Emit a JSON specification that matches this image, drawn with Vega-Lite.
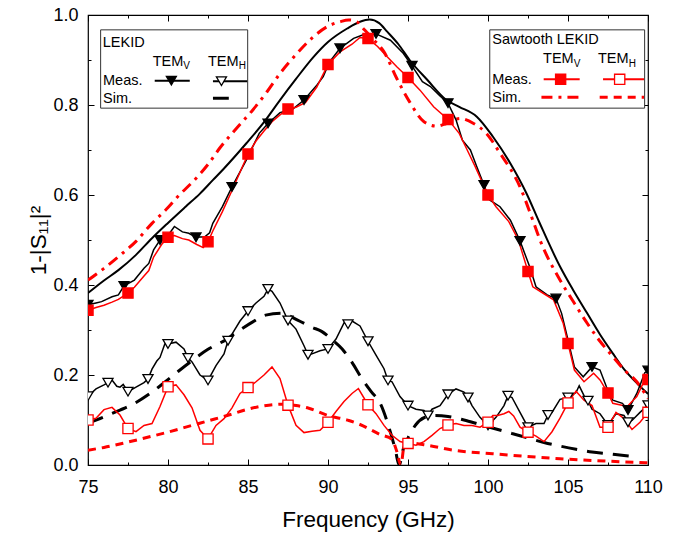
{
"$schema": "https://vega.github.io/schema/vega-lite/v6.json",
"width": 560, "height": 450,
"autosize": {"type": "none"},
"padding": {"left": 88, "top": 15, "right": 29, "bottom": 73},
"background": "white",
"config": {
  "view": {"stroke": "black", "strokeWidth": 1.2},
  "font": "Liberation Sans",
  "axis": {"grid": false, "domain": false, "tickColor": "black", "tickWidth": 1, "labelColor": "black", "titleColor": "black", "labelFont": "Liberation Sans", "titleFont": "Liberation Sans", "titleFontWeight": "normal", "labelFlush": false, "labelOverlap": false}
},
"datasets": {
"curves": [
{"s":"LV","f":75.0,"v":0.356},{"s":"LV","f":75.5,"v":0.36},{"s":"LV","f":75.85,"v":0.363},{"s":"LV","f":76.5,"v":0.374},{"s":"LV","f":76.9,"v":0.378},{"s":"LV","f":77.25,"v":0.398},{"s":"LV","f":77.9,"v":0.411},{"s":"LV","f":78.5,"v":0.437},{"s":"LV","f":78.8,"v":0.448},{"s":"LV","f":79.1,"v":0.478},{"s":"LV","f":79.5,"v":0.5},{"s":"LV","f":80.0,"v":0.51},{"s":"LV","f":80.4,"v":0.53},{"s":"LV","f":80.9,"v":0.518},{"s":"LV","f":81.3,"v":0.515},{"s":"LV","f":81.75,"v":0.506},{"s":"LV","f":82.3,"v":0.507},{"s":"LV","f":82.6,"v":0.516},{"s":"LV","f":82.8,"v":0.537},{"s":"LV","f":83.4,"v":0.574},{"s":"LV","f":84.0,"v":0.618},{"s":"LV","f":84.9,"v":0.678},{"s":"LV","f":85.7,"v":0.737},{"s":"LV","f":86.25,"v":0.759},{"s":"LV","f":87.0,"v":0.783},{"s":"LV","f":87.8,"v":0.791},{"s":"LV","f":88.5,"v":0.811},{"s":"LV","f":89.3,"v":0.844},{"s":"LV","f":89.7,"v":0.863},{"s":"LV","f":90.1,"v":0.896},{"s":"LV","f":90.75,"v":0.926},{"s":"LV","f":91.6,"v":0.948},{"s":"LV","f":92.2,"v":0.956},{"s":"LV","f":93.0,"v":0.958},{"s":"LV","f":93.9,"v":0.944},{"s":"LV","f":94.7,"v":0.915},{"s":"LV","f":95.25,"v":0.887},{"s":"LV","f":95.9,"v":0.852},{"s":"LV","f":96.4,"v":0.841},{"s":"LV","f":97.0,"v":0.82},{"s":"LV","f":97.5,"v":0.804},{"s":"LV","f":98.0,"v":0.767},{"s":"LV","f":98.4,"v":0.722},{"s":"LV","f":98.9,"v":0.7},{"s":"LV","f":99.3,"v":0.663},{"s":"LV","f":99.75,"v":0.622},{"s":"LV","f":100.1,"v":0.589},{"s":"LV","f":100.75,"v":0.574},{"s":"LV","f":101.4,"v":0.544},{"s":"LV","f":102.0,"v":0.498},{"s":"LV","f":102.6,"v":0.441},{"s":"LV","f":103.0,"v":0.396},{"s":"LV","f":103.7,"v":0.378},{"s":"LV","f":104.25,"v":0.37},{"s":"LV","f":104.6,"v":0.337},{"s":"LV","f":105.0,"v":0.278},{"s":"LV","f":105.4,"v":0.218},{"s":"LV","f":105.95,"v":0.196},{"s":"LV","f":106.5,"v":0.218},{"s":"LV","f":107.0,"v":0.211},{"s":"LV","f":107.4,"v":0.174},{"s":"LV","f":107.8,"v":0.144},{"s":"LV","f":108.4,"v":0.137},{"s":"LV","f":108.75,"v":0.122},{"s":"LV","f":109.3,"v":0.159},{"s":"LV","f":109.8,"v":0.205},{"s":"LV","f":110.0,"v":0.21},

{"s":"SV","f":75.0,"v":0.344},{"s":"SV","f":75.5,"v":0.35},{"s":"SV","f":76.0,"v":0.355},{"s":"SV","f":76.5,"v":0.362},{"s":"SV","f":76.9,"v":0.368},{"s":"SV","f":77.5,"v":0.382},{"s":"SV","f":77.9,"v":0.395},{"s":"SV","f":78.5,"v":0.42},{"s":"SV","f":78.8,"v":0.432},{"s":"SV","f":79.1,"v":0.462},{"s":"SV","f":79.6,"v":0.49},{"s":"SV","f":80.0,"v":0.506},{"s":"SV","f":80.4,"v":0.51},{"s":"SV","f":80.9,"v":0.503},{"s":"SV","f":81.3,"v":0.5},{"s":"SV","f":81.8,"v":0.49},{"s":"SV","f":82.2,"v":0.483},{"s":"SV","f":82.5,"v":0.496},{"s":"SV","f":82.8,"v":0.52},{"s":"SV","f":83.4,"v":0.563},{"s":"SV","f":84.0,"v":0.61},{"s":"SV","f":85.0,"v":0.691},{"s":"SV","f":85.5,"v":0.72},{"s":"SV","f":86.0,"v":0.742},{"s":"SV","f":86.5,"v":0.763},{"s":"SV","f":87.0,"v":0.778},{"s":"SV","f":87.5,"v":0.791},{"s":"SV","f":88.0,"v":0.795},{"s":"SV","f":88.6,"v":0.806},{"s":"SV","f":89.3,"v":0.84},{"s":"SV","f":90.0,"v":0.89},{"s":"SV","f":90.75,"v":0.918},{"s":"SV","f":91.5,"v":0.935},{"s":"SV","f":92.0,"v":0.95},{"s":"SV","f":92.5,"v":0.948},{"s":"SV","f":93.1,"v":0.93},{"s":"SV","f":93.7,"v":0.907},{"s":"SV","f":94.3,"v":0.885},{"s":"SV","f":95.0,"v":0.861},{"s":"SV","f":95.75,"v":0.833},{"s":"SV","f":96.6,"v":0.796},{"s":"SV","f":97.5,"v":0.768},{"s":"SV","f":98.2,"v":0.737},{"s":"SV","f":98.7,"v":0.7},{"s":"SV","f":99.2,"v":0.663},{"s":"SV","f":100.0,"v":0.6},{"s":"SV","f":100.5,"v":0.574},{"s":"SV","f":101.3,"v":0.541},{"s":"SV","f":101.9,"v":0.5},{"s":"SV","f":102.5,"v":0.43},{"s":"SV","f":102.8,"v":0.396},{"s":"SV","f":103.3,"v":0.385},{"s":"SV","f":104.1,"v":0.367},{"s":"SV","f":104.7,"v":0.315},{"s":"SV","f":105.0,"v":0.27},{"s":"SV","f":105.4,"v":0.211},{"s":"SV","f":106.0,"v":0.185},{"s":"SV","f":106.6,"v":0.204},{"s":"SV","f":107.0,"v":0.189},{"s":"SV","f":107.5,"v":0.16},{"s":"SV","f":107.8,"v":0.137},{"s":"SV","f":108.7,"v":0.13},{"s":"SV","f":109.3,"v":0.152},{"s":"SV","f":109.7,"v":0.182},{"s":"SV","f":110.0,"v":0.19},

{"s":"LH","f":75.0,"v":0.153},{"s":"LH","f":75.5,"v":0.169},{"s":"LH","f":76.0,"v":0.178},{"s":"LH","f":76.25,"v":0.183},{"s":"LH","f":76.5,"v":0.189},{"s":"LH","f":76.8,"v":0.175},{"s":"LH","f":77.0,"v":0.173},{"s":"LH","f":77.2,"v":0.179},{"s":"LH","f":77.5,"v":0.163},{"s":"LH","f":78.0,"v":0.173},{"s":"LH","f":78.5,"v":0.183},{"s":"LH","f":78.75,"v":0.191},{"s":"LH","f":79.0,"v":0.213},{"s":"LH","f":79.3,"v":0.231},{"s":"LH","f":79.5,"v":0.239},{"s":"LH","f":79.8,"v":0.269},{"s":"LH","f":80.0,"v":0.269},{"s":"LH","f":80.5,"v":0.273},{"s":"LH","f":81.0,"v":0.258},{"s":"LH","f":81.25,"v":0.238},{"s":"LH","f":81.5,"v":0.229},{"s":"LH","f":82.0,"v":0.2},{"s":"LH","f":82.5,"v":0.188},{"s":"LH","f":83.0,"v":0.221},{"s":"LH","f":83.5,"v":0.247},{"s":"LH","f":83.75,"v":0.276},{"s":"LH","f":84.0,"v":0.291},{"s":"LH","f":84.5,"v":0.32},{"s":"LH","f":85.0,"v":0.342},{"s":"LH","f":85.5,"v":0.36},{"s":"LH","f":86.0,"v":0.375},{"s":"LH","f":86.25,"v":0.391},{"s":"LH","f":86.5,"v":0.386},{"s":"LH","f":87.0,"v":0.36},{"s":"LH","f":87.5,"v":0.321},{"s":"LH","f":88.0,"v":0.302},{"s":"LH","f":88.5,"v":0.265},{"s":"LH","f":88.75,"v":0.245},{"s":"LH","f":89.0,"v":0.247},{"s":"LH","f":89.5,"v":0.254},{"s":"LH","f":90.0,"v":0.258},{"s":"LH","f":90.5,"v":0.28},{"s":"LH","f":91.0,"v":0.316},{"s":"LH","f":91.25,"v":0.313},{"s":"LH","f":91.5,"v":0.32},{"s":"LH","f":92.0,"v":0.309},{"s":"LH","f":92.5,"v":0.275},{"s":"LH","f":93.0,"v":0.244},{"s":"LH","f":93.5,"v":0.214},{"s":"LH","f":93.75,"v":0.188},{"s":"LH","f":94.0,"v":0.185},{"s":"LH","f":94.5,"v":0.152},{"s":"LH","f":95.0,"v":0.132},{"s":"LH","f":95.5,"v":0.124},{"s":"LH","f":96.0,"v":0.121},{"s":"LH","f":96.25,"v":0.11},{"s":"LH","f":96.5,"v":0.124},{"s":"LH","f":97.0,"v":0.132},{"s":"LH","f":97.5,"v":0.157},{"s":"LH","f":98.0,"v":0.169},{"s":"LH","f":98.5,"v":0.162},{"s":"LH","f":98.75,"v":0.15},{"s":"LH","f":99.0,"v":0.132},{"s":"LH","f":99.5,"v":0.106},{"s":"LH","f":100.0,"v":0.088},{"s":"LH","f":100.5,"v":0.106},{"s":"LH","f":101.0,"v":0.132},{"s":"LH","f":101.25,"v":0.154},{"s":"LH","f":101.5,"v":0.15},{"s":"LH","f":102.0,"v":0.117},{"s":"LH","f":102.5,"v":0.084},{"s":"LH","f":103.0,"v":0.092},{"s":"LH","f":103.5,"v":0.092},{"s":"LH","f":103.75,"v":0.111},{"s":"LH","f":104.0,"v":0.117},{"s":"LH","f":104.5,"v":0.146},{"s":"LH","f":105.0,"v":0.15},{"s":"LH","f":105.5,"v":0.161},{"s":"LH","f":105.7,"v":0.176},{"s":"LH","f":106.0,"v":0.154},{"s":"LH","f":106.25,"v":0.143},{"s":"LH","f":106.5,"v":0.124},{"s":"LH","f":107.0,"v":0.114},{"s":"LH","f":107.5,"v":0.089},{"s":"LH","f":108.0,"v":0.114},{"s":"LH","f":108.5,"v":0.11},{"s":"LH","f":108.75,"v":0.095},{"s":"LH","f":109.0,"v":0.099},{"s":"LH","f":109.5,"v":0.117},{"s":"LH","f":110.0,"v":0.133},

{"s":"SH","f":75.0,"v":0.1},{"s":"SH","f":75.5,"v":0.104},{"s":"SH","f":76.0,"v":0.123},{"s":"SH","f":76.5,"v":0.128},{"s":"SH","f":77.0,"v":0.111},{"s":"SH","f":77.5,"v":0.081},{"s":"SH","f":78.0,"v":0.074},{"s":"SH","f":78.5,"v":0.088},{"s":"SH","f":79.0,"v":0.092},{"s":"SH","f":79.5,"v":0.13},{"s":"SH","f":80.0,"v":0.174},{"s":"SH","f":80.5,"v":0.178},{"s":"SH","f":81.0,"v":0.156},{"s":"SH","f":81.5,"v":0.127},{"s":"SH","f":82.0,"v":0.077},{"s":"SH","f":82.5,"v":0.058},{"s":"SH","f":83.0,"v":0.088},{"s":"SH","f":83.5,"v":0.103},{"s":"SH","f":84.0,"v":0.127},{"s":"SH","f":84.5,"v":0.159},{"s":"SH","f":85.0,"v":0.172},{"s":"SH","f":85.5,"v":0.185},{"s":"SH","f":86.0,"v":0.2},{"s":"SH","f":86.5,"v":0.218},{"s":"SH","f":87.0,"v":0.192},{"s":"SH","f":87.5,"v":0.133},{"s":"SH","f":88.0,"v":0.088},{"s":"SH","f":88.5,"v":0.072},{"s":"SH","f":89.0,"v":0.075},{"s":"SH","f":89.5,"v":0.077},{"s":"SH","f":90.0,"v":0.095},{"s":"SH","f":90.5,"v":0.119},{"s":"SH","f":91.0,"v":0.141},{"s":"SH","f":91.5,"v":0.159},{"s":"SH","f":91.9,"v":0.17},{"s":"SH","f":92.5,"v":0.134},{"s":"SH","f":93.0,"v":0.114},{"s":"SH","f":93.5,"v":0.088},{"s":"SH","f":94.0,"v":0.066},{"s":"SH","f":94.5,"v":0.052},{"s":"SH","f":95.0,"v":0.048},{"s":"SH","f":95.5,"v":0.044},{"s":"SH","f":96.0,"v":0.052},{"s":"SH","f":96.5,"v":0.066},{"s":"SH","f":97.0,"v":0.081},{"s":"SH","f":97.5,"v":0.089},{"s":"SH","f":98.0,"v":0.092},{"s":"SH","f":98.5,"v":0.088},{"s":"SH","f":99.0,"v":0.088},{"s":"SH","f":99.5,"v":0.084},{"s":"SH","f":100.0,"v":0.095},{"s":"SH","f":100.3,"v":0.11},{"s":"SH","f":100.6,"v":0.11},{"s":"SH","f":101.0,"v":0.114},{"s":"SH","f":101.3,"v":0.119},{"s":"SH","f":101.6,"v":0.109},{"s":"SH","f":102.0,"v":0.084},{"s":"SH","f":102.5,"v":0.073},{"s":"SH","f":103.0,"v":0.064},{"s":"SH","f":103.5,"v":0.052},{"s":"SH","f":104.0,"v":0.074},{"s":"SH","f":104.5,"v":0.104},{"s":"SH","f":105.0,"v":0.138},{"s":"SH","f":105.5,"v":0.164},{"s":"SH","f":106.0,"v":0.144},{"s":"SH","f":106.5,"v":0.132},{"s":"SH","f":107.0,"v":0.084},{"s":"SH","f":107.5,"v":0.084},{"s":"SH","f":108.0,"v":0.117},{"s":"SH","f":108.5,"v":0.103},{"s":"SH","f":109.0,"v":0.079},{"s":"SH","f":109.5,"v":0.095},{"s":"SH","f":110.0,"v":0.117},

{"s":"LVS","f":75.0,"v":0.382},{"s":"LVS","f":76.0,"v":0.41},{"s":"LVS","f":76.9,"v":0.433},{"s":"LVS","f":78.0,"v":0.467},{"s":"LVS","f":79.0,"v":0.504},{"s":"LVS","f":80.0,"v":0.538},{"s":"LVS","f":81.1,"v":0.574},{"s":"LVS","f":82.0,"v":0.603},{"s":"LVS","f":82.8,"v":0.633},{"s":"LVS","f":83.5,"v":0.659},{"s":"LVS","f":84.9,"v":0.715},{"s":"LVS","f":86.0,"v":0.762},{"s":"LVS","f":87.0,"v":0.811},{"s":"LVS","f":88.0,"v":0.858},{"s":"LVS","f":89.1,"v":0.907},{"s":"LVS","f":90.0,"v":0.94},{"s":"LVS","f":91.2,"v":0.97},{"s":"LVS","f":92.0,"v":0.985},{"s":"LVS","f":92.6,"v":0.99},{"s":"LVS","f":93.2,"v":0.982},{"s":"LVS","f":93.7,"v":0.963},{"s":"LVS","f":94.4,"v":0.935},{"s":"LVS","f":95.1,"v":0.9},{"s":"LVS","f":96.2,"v":0.856},{"s":"LVS","f":97.4,"v":0.811},{"s":"LVS","f":98.2,"v":0.796},{"s":"LVS","f":99.3,"v":0.774},{"s":"LVS","f":100.3,"v":0.73},{"s":"LVS","f":101.4,"v":0.67},{"s":"LVS","f":102.4,"v":0.604},{"s":"LVS","f":103.2,"v":0.54},{"s":"LVS","f":104.5,"v":0.441},{"s":"LVS","f":105.3,"v":0.39},{"s":"LVS","f":106.2,"v":0.337},{"s":"LVS","f":107.0,"v":0.29},{"s":"LVS","f":107.8,"v":0.248},{"s":"LVS","f":108.5,"v":0.213},{"s":"LVS","f":109.3,"v":0.182},{"s":"LVS","f":110.0,"v":0.158},

{"s":"SVS","f":75.0,"v":0.411},{"s":"SVS","f":76.0,"v":0.437},{"s":"SVS","f":76.9,"v":0.463},{"s":"SVS","f":78.0,"v":0.497},{"s":"SVS","f":79.0,"v":0.537},{"s":"SVS","f":80.0,"v":0.572},{"s":"SVS","f":80.6,"v":0.596},{"s":"SVS","f":81.7,"v":0.635},{"s":"SVS","f":82.5,"v":0.668},{"s":"SVS","f":83.25,"v":0.705},{"s":"SVS","f":84.3,"v":0.749},{"s":"SVS","f":85.3,"v":0.789},{"s":"SVS","f":86.2,"v":0.83},{"s":"SVS","f":87.0,"v":0.87},{"s":"SVS","f":88.0,"v":0.912},{"s":"SVS","f":89.1,"v":0.952},{"s":"SVS","f":90.0,"v":0.975},{"s":"SVS","f":90.75,"v":0.985},{"s":"SVS","f":91.3,"v":0.989},{"s":"SVS","f":91.8,"v":0.985},{"s":"SVS","f":92.2,"v":0.97},{"s":"SVS","f":92.8,"v":0.947},{"s":"SVS","f":93.5,"v":0.918},{"s":"SVS","f":94.3,"v":0.859},{"s":"SVS","f":95.1,"v":0.807},{"s":"SVS","f":96.0,"v":0.763},{"s":"SVS","f":96.8,"v":0.753},{"s":"SVS","f":97.4,"v":0.759},{"s":"SVS","f":98.25,"v":0.77},{"s":"SVS","f":99.1,"v":0.759},{"s":"SVS","f":99.9,"v":0.737},{"s":"SVS","f":100.75,"v":0.693},{"s":"SVS","f":102.0,"v":0.618},{"s":"SVS","f":102.8,"v":0.544},{"s":"SVS","f":103.25,"v":0.5},{"s":"SVS","f":104.5,"v":0.411},{"s":"SVS","f":105.3,"v":0.365},{"s":"SVS","f":106.2,"v":0.315},{"s":"SVS","f":107.0,"v":0.275},{"s":"SVS","f":107.8,"v":0.241},{"s":"SVS","f":108.5,"v":0.212},{"s":"SVS","f":109.3,"v":0.185},{"s":"SVS","f":110.0,"v":0.148},

{"s":"LHS","f":75.0,"v":0.093},{"s":"LHS","f":76.0,"v":0.107},{"s":"LHS","f":77.0,"v":0.122},{"s":"LHS","f":77.7,"v":0.133},{"s":"LHS","f":79.0,"v":0.162},{"s":"LHS","f":80.25,"v":0.197},{"s":"LHS","f":81.5,"v":0.232},{"s":"LHS","f":82.5,"v":0.257},{"s":"LHS","f":83.6,"v":0.278},{"s":"LHS","f":84.5,"v":0.3},{"s":"LHS","f":85.3,"v":0.318},{"s":"LHS","f":86.1,"v":0.333},{"s":"LHS","f":87.1,"v":0.337},{"s":"LHS","f":88.1,"v":0.322},{"s":"LHS","f":89.0,"v":0.306},{"s":"LHS","f":89.6,"v":0.297},{"s":"LHS","f":90.3,"v":0.277},{"s":"LHS","f":90.9,"v":0.257},{"s":"LHS","f":91.5,"v":0.228},{"s":"LHS","f":92.1,"v":0.193},{"s":"LHS","f":92.7,"v":0.163},{"s":"LHS","f":93.25,"v":0.138},{"s":"LHS","f":93.9,"v":0.073},{"s":"LHS","f":94.2,"v":0.035},{"s":"LHS","f":94.45,"v":0.0},{"s":"LHS","f":94.7,"v":0.035},{"s":"LHS","f":95.1,"v":0.067},{"s":"LHS","f":95.5,"v":0.09},{"s":"LHS","f":96.0,"v":0.105},{"s":"LHS","f":96.7,"v":0.11},{"s":"LHS","f":97.5,"v":0.108},{"s":"LHS","f":98.5,"v":0.1},{"s":"LHS","f":99.5,"v":0.09},{"s":"LHS","f":100.5,"v":0.08},{"s":"LHS","f":101.5,"v":0.07},{"s":"LHS","f":102.5,"v":0.06},{"s":"LHS","f":103.5,"v":0.05},{"s":"LHS","f":104.5,"v":0.042},{"s":"LHS","f":105.5,"v":0.035},{"s":"LHS","f":106.5,"v":0.029},{"s":"LHS","f":107.5,"v":0.025},{"s":"LHS","f":108.5,"v":0.021},{"s":"LHS","f":109.0,"v":0.019},

{"s":"SHS","f":75.0,"v":0.033},{"s":"SHS","f":76.0,"v":0.039},{"s":"SHS","f":77.5,"v":0.051},{"s":"SHS","f":79.0,"v":0.064},{"s":"SHS","f":80.0,"v":0.073},{"s":"SHS","f":81.5,"v":0.088},{"s":"SHS","f":82.5,"v":0.098},{"s":"SHS","f":83.8,"v":0.111},{"s":"SHS","f":85.0,"v":0.124},{"s":"SHS","f":86.3,"v":0.133},{"s":"SHS","f":87.2,"v":0.135},{"s":"SHS","f":88.0,"v":0.132},{"s":"SHS","f":88.8,"v":0.126},{"s":"SHS","f":90.0,"v":0.11},{"s":"SHS","f":91.3,"v":0.099},{"s":"SHS","f":92.0,"v":0.09},{"s":"SHS","f":93.25,"v":0.068},{"s":"SHS","f":94.0,"v":0.057},{"s":"SHS","f":94.3,"v":0.03},{"s":"SHS","f":94.55,"v":0.0},{"s":"SHS","f":94.8,"v":0.05},{"s":"SHS","f":96.2,"v":0.044},{"s":"SHS","f":97.8,"v":0.033},{"s":"SHS","f":100.3,"v":0.025},{"s":"SHS","f":102.4,"v":0.019},{"s":"SHS","f":104.5,"v":0.014},{"s":"SHS","f":106.6,"v":0.01},{"s":"SHS","f":108.5,"v":0.007},{"s":"SHS","f":110.0,"v":0.005}
],
"boxes": [
{"f":75.79,"f2":84.98,"v":0.967,"v2":0.793},
{"f":100.11,"f2":109.79,"v":0.967,"v2":0.793}
],
"leglines": [
{"s":"LV","f":79.17,"v":0.854},{"s":"LV","f":81.36,"v":0.854},
{"s":"LH","f":82.81,"v":0.853},{"s":"LH","f":84.95,"v":0.853},
{"s":"LVS","f":79.17,"v":0.815},{"s":"LVS","f":81.36,"v":0.815},
{"s":"LHS","f":82.81,"v":0.815},{"s":"LHS","f":83.8,"v":0.815},
{"s":"SV","f":103.48,"v":0.857},{"s":"SV","f":105.73,"v":0.857},
{"s":"SH","f":107.19,"v":0.857},{"s":"SH","f":109.75,"v":0.857},
{"s":"SVS","f":103.34,"v":0.817},{"s":"SVS","f":105.7,"v":0.817},
{"s":"SHS","f":106.98,"v":0.817},{"s":"SHS","f":109.75,"v":0.817}
],
"legmarks": [
{"s":"LV","f":80.21,"v":0.854},
{"s":"LH","f":83.34,"v":0.853},
{"s":"SV","f":104.54,"v":0.857},
{"s":"SH","f":108.23,"v":0.857}
],
"legtext": [
{"t":"LEKID","f":75.92,"v":0.929},
{"t":"TEM","f":79.04,"v":0.887},
{"t":"TEM","f":82.5,"v":0.887},
{"t":"Meas.","f":75.94,"v":0.844},
{"t":"Sim.","f":75.94,"v":0.804},
{"t":"Sawtooth LEKID","f":100.27,"v":0.936},
{"t":"TEM","f":103.44,"v":0.893},
{"t":"TEM","f":106.875,"v":0.893},
{"t":"Meas.","f":100.27,"v":0.847},
{"t":"Sim.","f":100.27,"v":0.807}
],
"legsub": [
{"t":"V","f":80.96,"v":0.879},
{"t":"H","f":84.42,"v":0.879},
{"t":"V","f":105.36,"v":0.885},
{"t":"H","f":108.8,"v":0.885}
]
},
"layer": [
{
 "data": {"name": "curves"},
 "transform": [{"filter": "datum.s == 'LVS'"}],
 "mark": {"type": "line", "interpolate": "monotone", "clip": true, "color": "#000000", "strokeWidth": 2},
 "encoding": {
  "x": {"field": "f", "type": "quantitative", "scale": {"domain": [75, 110], "nice": false, "zero": false},
        "axis": {"orient": "bottom", "values": [77.5, 82.5, 87.5, 92.5, 97.5, 102.5, 107.5], "tickSize": -3, "labels": false, "title": null}},
  "y": {"field": "v", "type": "quantitative", "scale": {"domain": [0, 1], "nice": false, "zero": false},
        "axis": {"orient": "left", "values": [0.1, 0.3, 0.5, 0.7, 0.9], "tickSize": -3, "labels": false, "title": null}}
 }
},
{
 "data": {"name": "curves"},
 "transform": [{"filter": "datum.s == 'LHS'"}],
 "mark": {"type": "line", "interpolate": "monotone", "clip": true, "color": "#000000", "strokeWidth": 3, "strokeDash": [16, 10]},
 "encoding": {
  "x": {"field": "f", "type": "quantitative", "axis": null},
  "y": {"field": "v", "type": "quantitative", "axis": null}
 }
},
{
 "data": {"name": "curves"},
 "transform": [{"filter": "datum.s == 'SVS'"}],
 "mark": {"type": "line", "interpolate": "monotone", "clip": true, "color": "#ff0000", "strokeWidth": 3, "strokeDash": [11, 6, 3, 6]},
 "encoding": {
  "x": {"field": "f", "type": "quantitative", "axis": null},
  "y": {"field": "v", "type": "quantitative", "axis": null}
 }
},
{
 "data": {"name": "curves"},
 "transform": [{"filter": "datum.s == 'SHS'"}],
 "mark": {"type": "line", "interpolate": "monotone", "clip": true, "color": "#ff0000", "strokeWidth": 3, "strokeDash": [8, 6]},
 "encoding": {
  "x": {"field": "f", "type": "quantitative", "axis": null},
  "y": {"field": "v", "type": "quantitative", "axis": null}
 }
},
{
 "data": {"name": "curves"},
 "transform": [{"filter": "indexof(['LV','LH','SV','SH'], datum.s) >= 0"}],
 "mark": {"type": "line", "clip": true, "strokeWidth": 1.5},
 "encoding": {
  "x": {"field": "f", "type": "quantitative",
        "axis": {"orient": "bottom", "values": [75, 80, 85, 90, 95, 100, 105, 110], "tickSize": -6, "labelFontSize": 18, "labelPadding": 19, "title": "Frequency (GHz)", "titleFontSize": 22.5, "titlePadding": 12}},
  "y": {"field": "v", "type": "quantitative",
        "axis": {"orient": "left", "values": [0, 0.2, 0.4, 0.6, 0.8, 1.0], "format": ".1f", "tickSize": -6, "labelFontSize": 18, "labelPadding": 16, "title": "1-|S₁₁|²", "titleFontSize": 22.5, "titlePadding": 2}},
  "color": {"field": "s", "type": "nominal", "legend": null, "scale": {"domain": ["LV","LH","SV","SH"], "range": ["#000000","#000000","#ff0000","#ff0000"]}}
 }
},
{
 "data": {"name": "curves"},
 "transform": [{"filter": "(datum.s == 'LV' && ((datum.f - 75) % 2.25 == 0 || datum.f == 110)) || (datum.s == 'LH' && (datum.f - 75) % 1.25 == 0) || ((datum.s == 'SV' || datum.s == 'SH') && (datum.f - 75) % 2.5 == 0)"}],
 "mark": {"type": "point", "filled": false, "opacity": 1, "strokeWidth": 1.3, "clip": true},
 "encoding": {
  "x": {"field": "f", "type": "quantitative",
        "axis": {"orient": "top", "values": [75, 80, 85, 90, 95, 100, 105, 110], "tickSize": -6, "labels": false, "title": null}},
  "y": {"field": "v", "type": "quantitative",
        "axis": {"orient": "right", "values": [0, 0.2, 0.4, 0.6, 0.8, 1.0], "tickSize": -6, "labels": false, "title": null}},
  "shape": {"field": "s", "type": "nominal", "legend": null, "scale": {"domain": ["LV","LH","SV","SH"], "range": ["triangle-down","triangle-down","square","square"]}},
  "fill": {"field": "s", "type": "nominal", "legend": null, "scale": {"domain": ["LV","LH","SV","SH"], "range": ["#000000","#ffffff","#ff0000","#ffffff"]}},
  "stroke": {"field": "s", "type": "nominal", "legend": null, "scale": {"domain": ["LV","LH","SV","SH"], "range": ["#000000","#000000","#ff0000","#ff0000"]}},
  "size": {"field": "s", "type": "nominal", "legend": null, "scale": {"domain": ["LV","LH","SV","SH"], "range": [100, 105, 85, 55]}}
 }
},
{
 "data": {"name": "boxes"},
 "mark": {"type": "rect", "fill": "white", "stroke": "#333333", "strokeWidth": 1},
 "encoding": {
  "x": {"field": "f", "type": "quantitative",
        "axis": {"orient": "top", "values": [77.5, 82.5, 87.5, 92.5, 97.5, 102.5, 107.5], "tickSize": -3, "labels": false, "title": null}},
  "x2": {"field": "f2"},
  "y": {"field": "v", "type": "quantitative",
        "axis": {"orient": "right", "values": [0.1, 0.3, 0.5, 0.7, 0.9], "tickSize": -3, "labels": false, "title": null}},
  "y2": {"field": "v2"}
 }
},
{
 "data": {"name": "leglines"},
 "transform": [{"filter": "indexof(['LV','LH','SV','SH','LVS'], datum.s) >= 0"}],
 "mark": {"type": "line"},
 "encoding": {
  "x": {"field": "f", "type": "quantitative", "axis": null},
  "y": {"field": "v", "type": "quantitative", "axis": null},
  "detail": {"field": "s", "type": "nominal"},
  "color": {"field": "s", "type": "nominal", "legend": null}
 }
},
{
 "data": {"name": "leglines"},
 "transform": [{"filter": "datum.s == 'LHS'"}],
 "mark": {"type": "line", "color": "#000000", "strokeWidth": 3, "strokeDash": [16, 10]},
 "encoding": {
  "x": {"field": "f", "type": "quantitative", "axis": null},
  "y": {"field": "v", "type": "quantitative", "axis": null}
 }
},
{
 "data": {"name": "leglines"},
 "transform": [{"filter": "datum.s == 'SVS'"}],
 "mark": {"type": "line", "color": "#ff0000", "strokeWidth": 3, "strokeDash": [11, 6, 3, 6]},
 "encoding": {
  "x": {"field": "f", "type": "quantitative", "axis": null},
  "y": {"field": "v", "type": "quantitative", "axis": null}
 }
},
{
 "data": {"name": "leglines"},
 "transform": [{"filter": "datum.s == 'SHS'"}],
 "mark": {"type": "line", "color": "#ff0000", "strokeWidth": 3, "strokeDash": [8, 6]},
 "encoding": {
  "x": {"field": "f", "type": "quantitative", "axis": null},
  "y": {"field": "v", "type": "quantitative", "axis": null}
 }
},
{
 "data": {"name": "legmarks"},
 "mark": {"type": "point", "filled": false, "opacity": 1, "strokeWidth": 1.3},
 "encoding": {
  "x": {"field": "f", "type": "quantitative", "axis": null},
  "y": {"field": "v", "type": "quantitative", "axis": null},
  "shape": {"field": "s", "type": "nominal", "legend": null},
  "fill": {"field": "s", "type": "nominal", "legend": null},
  "stroke": {"field": "s", "type": "nominal", "legend": null},
  "size": {"field": "s", "type": "nominal", "legend": null}
 }
},
{
 "data": {"name": "legtext"},
 "mark": {"type": "text", "align": "left", "baseline": "alphabetic", "fontSize": 14.5, "font": "Liberation Sans", "color": "black"},
 "encoding": {
  "x": {"field": "f", "type": "quantitative", "axis": null},
  "y": {"field": "v", "type": "quantitative", "axis": null},
  "text": {"field": "t"}
 }
},
{
 "data": {"name": "legsub"},
 "mark": {"type": "text", "align": "left", "baseline": "alphabetic", "fontSize": 10, "font": "Liberation Sans", "color": "black"},
 "encoding": {
  "x": {"field": "f", "type": "quantitative", "axis": null},
  "y": {"field": "v", "type": "quantitative", "axis": null},
  "text": {"field": "t"}
 }
}
],
"resolve": {"axis": {"x": "independent", "y": "independent"}}
}
